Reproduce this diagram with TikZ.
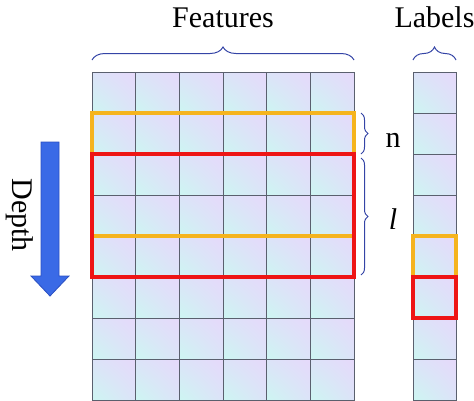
\documentclass[tikz,border=0pt]{standalone}
\usepackage{fontspec}
\setmainfont{Liberation Serif}
\usetikzlibrary{decorations.pathreplacing,shadings}
\definecolor{lav}{HTML}{E6D9FB}
\definecolor{cya}{HTML}{CDF6F2}
\definecolor{midc}{HTML}{DCE3F8}
\definecolor{gridc}{HTML}{5A606E}
\definecolor{orng}{HTML}{F5B41E}
\definecolor{redb}{HTML}{EE1515}
\definecolor{bluef}{HTML}{3A6AE6}
\definecolor{bluel}{HTML}{2A4FC2}
\definecolor{bracec}{HTML}{3444A6}
\begin{document}
\begin{tikzpicture}[x=1pt,y=-1pt,
  cell/.style={draw=gridc, line width=1pt, minimum width=43.67pt, minimum height=41pt,
    inner sep=0pt, outer sep=0pt, upper right=lav, upper left=midc, lower left=cya, lower right=midc},
  obox/.style={draw=orng, line width=3.5pt},
  rbox/.style={draw=redb, line width=3.5pt},
  bracestyle/.style={draw=bracec, line width=1pt, decorate},
  lbl/.style={font=\fontsize{30}{36}\selectfont}]
\useasboundingbox (0,0) rectangle (474,400);
% feature grid
\foreach \r in {1,...,9}{
  \foreach \c in {1,...,6}{
    \node[cell] (f-\r-\c) at ({92+43.67*(\c-0.5)},{72+41*(\r-0.5)}) {};
  }
  \node[cell, minimum width=43pt] (lab-\r) at (434.5,{72+41*(\r-0.5)}) {};
}
% highlight boxes
\draw[obox] (f-2-1.north west) rectangle (f-4-6.south east);
\draw[rbox] (f-3-1.north west) rectangle (f-5-6.south east);
\draw[obox] (lab-5.north west) rectangle (lab-5.south east);
\draw[rbox] (lab-6.north west) rectangle (lab-6.south east);
% top braces
\coordinate (fb1) at ([yshift=12pt]f-1-1.north west);
\coordinate (fb2) at ([yshift=12pt]f-1-6.north east);
\draw[bracestyle, decoration={brace, amplitude=13pt}] (fb1) -- (fb2);
\coordinate (lb1) at ([yshift=12pt]lab-1.north west);
\coordinate (lb2) at ([yshift=12pt]lab-1.north east);
\draw[bracestyle, decoration={brace, amplitude=13pt}] (lb1) -- (lb2);
\node[lbl, anchor=base] (feat) at (223,27) {Features};
\node[lbl, anchor=base] (labt) at (434.5,27) {Labels};
% side braces
\coordinate (nb1) at (361,113);
\coordinate (nb2) at (361,154);
\draw[bracestyle, decoration={brace, amplitude=7pt}] (nb1) -- (nb2);
\coordinate (lbb1) at (361,158);
\coordinate (lbb2) at (361,275);
\draw[bracestyle, decoration={brace, amplitude=7pt}] (lbb1) -- (lbb2);
\node[lbl] (ntext) at (393,140) {n};
\node[lbl] (ltext) at (393,219) {\itshape l};
% depth arrow
\draw[fill=bluef, draw=bluel, line width=0.8pt]
  (41,142) -- (59,142) -- (59,276) -- (69,276) -- (50,296) -- (31,276) -- (41,276) -- cycle;
\node[lbl, rotate=-90] (depth) at (20,215) {Depth};
\end{tikzpicture}
\end{document}
